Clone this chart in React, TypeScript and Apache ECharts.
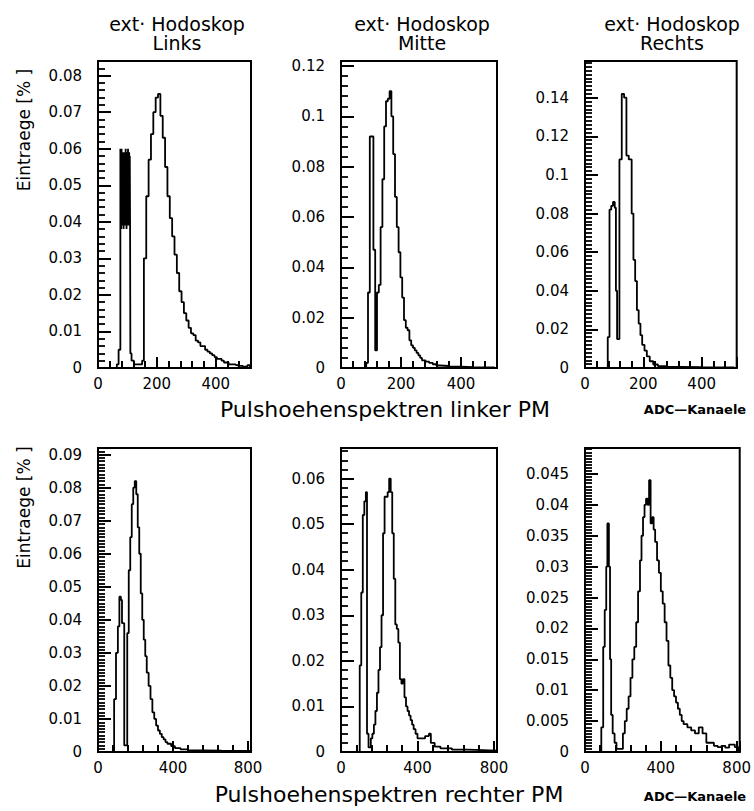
import React, { useEffect, useRef } from 'react';
import * as echarts from 'echarts';

// ---- Histogram data (bin edges in ADC channels, contents in %) ----
// Top row: linker PM
const p1Edges = [64, 70, 76, 77, 78, 79, 80, 81, 82, 83, 84, 85, 86, 87, 88, 89, 90, 91, 92, 93, 94, 95, 96, 97, 98, 99,
  100, 101, 102, 103, 104, 105, 106, 107, 108, 109, 110, 114, 122, 150, 156,
  164, 172, 180, 188, 196, 204, 212, 220, 228, 236, 244, 252, 260, 268, 276, 284, 292, 300, 308, 316, 324, 332, 340, 348,
  356, 364, 372, 380, 388, 396, 404, 412, 420, 428, 436, 444, 452, 460, 468, 476, 484, 492, 500, 508, 516];
const p1Counts = [0.001, 0.005,
  0.060, 0.040, 0.059, 0.038, 0.060, 0.042, 0.058, 0.039, 0.059, 0.041, 0.058, 0.038, 0.059, 0.043, 0.058, 0.040, 0.058,
  0.039, 0.060, 0.041, 0.059, 0.038, 0.058, 0.042, 0.059, 0.039, 0.060, 0.040, 0.058, 0.041, 0.059, 0.039, 0.058, 0.040,
  0.004, 0.002, 0.001, 0.002,
  0.030, 0.047, 0.057, 0.064, 0.070, 0.074, 0.075, 0.069, 0.063, 0.055, 0.047, 0.041, 0.036, 0.031, 0.026, 0.021, 0.018,
  0.015, 0.013, 0.011, 0.0095, 0.009, 0.0075, 0.007, 0.006, 0.006, 0.005, 0.0045, 0.004, 0.0035, 0.003, 0.0025, 0.0025,
  0.002, 0.0015, 0.0015, 0.001, 0.001, 0.001, 0.0008, 0.0006, 0.0006, 0.0004, 0.0004, 0.0008];

const p2Edges = [84, 90, 96, 102, 108, 114, 120, 126, 132, 138, 144, 150, 156, 162, 168, 174, 180, 186, 192, 198, 204, 210,
  216, 222, 228, 234, 240, 246, 252, 258, 264, 270, 282, 294, 306, 318, 330, 360, 400, 440, 512];
const p2Counts = [0.002, 0.030, 0.092, 0.092, 0.047, 0.007, 0.030, 0.033, 0.056, 0.075, 0.096, 0.106, 0.107, 0.110, 0.100,
  0.085, 0.068, 0.056, 0.046, 0.036, 0.028, 0.019, 0.016, 0.015, 0.011, 0.009, 0.008, 0.007, 0.006, 0.005, 0.004, 0.003,
  0.0025, 0.002, 0.0015, 0.001, 0.0008, 0.0005, 0.0003, 0.0002];

const p3Edges = [78, 84, 90, 96, 102, 106, 110, 118, 126, 134, 142, 150, 160, 166, 172, 178, 184, 190, 196, 204, 212, 222,
  234, 250, 280, 330, 400, 512];
const p3Counts = [0.016, 0.082, 0.084, 0.086, 0.083, 0.040, 0.015, 0.108, 0.142, 0.140, 0.110, 0.108, 0.080, 0.056, 0.045,
  0.030, 0.023, 0.017, 0.012, 0.009, 0.006, 0.0035, 0.0018, 0.001, 0.0006, 0.0004, 0.0003];

// Bottom row: rechter PM
const p4Edges = [86, 96, 106, 114, 122, 128, 140, 156, 164, 172, 180, 188, 196, 204, 212, 220, 228, 236, 244, 252, 260, 270,
  280, 290, 300, 310, 320, 330, 340, 350, 360, 370, 390, 410, 440, 480, 560, 660, 816];
const p4Counts = [0.016, 0.030, 0.038, 0.047, 0.046, 0.039, 0.002, 0.036, 0.055, 0.065, 0.075, 0.080, 0.082, 0.078, 0.068,
  0.060, 0.048, 0.040, 0.034, 0.029, 0.024, 0.020, 0.016, 0.012, 0.010, 0.008, 0.0065, 0.0055, 0.0045, 0.0038, 0.003,
  0.0025, 0.0018, 0.0012, 0.0008, 0.0005, 0.0004, 0.0003];

const p5Edges = [98, 106, 114, 122, 130, 136, 144, 156, 164, 172, 180, 188, 196, 204, 212, 220, 228, 236, 244, 252, 260, 268,
  276, 284, 292, 300, 308, 316, 324, 332, 340, 348, 356, 364, 372, 380, 390, 400, 420, 440, 460, 470, 490, 520, 580, 660,
  740, 816];
const p5Counts = [0.019, 0.035, 0.052, 0.055, 0.057, 0.004, 0.001, 0.003, 0.004, 0.006, 0.009, 0.013, 0.018, 0.023, 0.030,
  0.048, 0.056, 0.056, 0.057, 0.060, 0.057, 0.048, 0.038, 0.028, 0.027, 0.024, 0.016, 0.015, 0.016, 0.012, 0.010, 0.009,
  0.008, 0.007, 0.006, 0.005, 0.004, 0.003, 0.003, 0.0035, 0.004, 0.002, 0.0012, 0.0008, 0.0005, 0.0004, 0.0003];

const p6Edges = [86, 96, 104, 112, 118, 126, 132, 138, 146, 156, 166, 200, 210, 220, 230, 240, 250, 260, 270, 280, 290, 298,
  306, 314, 322, 330, 338, 346, 354, 362, 370, 380, 390, 400, 410, 420, 430, 440, 450, 460, 470, 480, 490, 500, 510, 520,
  540, 560, 580, 600, 620, 640, 660, 680, 700, 720, 740, 760, 790, 810];
const p6Counts = [0.004, 0.017, 0.023, 0.030, 0.037, 0.030, 0.015, 0.006, 0.003, 0.0015, 0.0005, 0.003, 0.005, 0.007, 0.009,
  0.012, 0.015, 0.017, 0.021, 0.026, 0.031, 0.035, 0.038, 0.040, 0.041, 0.040, 0.044, 0.037, 0.038, 0.036, 0.034, 0.031,
  0.029, 0.026, 0.024, 0.021, 0.018, 0.014, 0.012, 0.010, 0.009, 0.008, 0.007, 0.006, 0.005, 0.0045, 0.004, 0.0035, 0.003,
  0.004, 0.003, 0.0015, 0.0015, 0.001, 0.0008, 0.001, 0.0007, 0.0012, 0.0008];

const panelEdges = [p1Edges, p2Edges, p3Edges, p4Edges, p5Edges, p6Edges];
const panelCounts = [p1Counts, p2Counts, p3Counts, p4Counts, p5Counts, p6Counts];

// ---- Axis scales ----
const yMaxes = [0.084, 0.122, 0.159, 0.092, 0.0667, 0.0492];
const yIntervals = [0.01, 0.02, 0.02, 0.01, 0.01, 0.005];
const yMinorSplits = [5, 5, 10, 10, 5, 10];
const xMaxes = [520, 520, 520, 816, 816, 816];
const xIntervals = [200, 200, 200, 400, 400, 400];

// ---- Texts ----
const columnTitles = ['Links', 'Mitte', 'Rechts'];
const titlePrefix = 'ext· Hodoskop';
const yTitle = 'Eintraege [% ]';
const rowTitles = ['Pulshoehenspektren linker PM', 'Pulshoehenspektren rechter PM'];
const unitTitle = 'ADC—Kanaele';

// ---- Layout ----
const gridRects = [
  { left: 98, top: 61, width: 153, height: 307 },
  { left: 341, top: 61, width: 156, height: 307 },
  { left: 585, top: 61, width: 156, height: 307 },
  { left: 98, top: 448, width: 153, height: 304 },
  { left: 341, top: 448, width: 156, height: 304 },
  { left: 585, top: 448, width: 155, height: 304 },
];
// invisible grids that only carry the rotated y titles
const nameRects = [
  { left: 98, top: 62, width: 1, height: 136 },
  { left: 98, top: 447, width: 1, height: 121 },
];
const titleCentersX = [177, 422, 672];

const FONT = 'DejaVu Sans';

function toSteps(edges: number[], counts: number[]) {
  const pts: number[][] = [[edges[0], 0]];
  for (let i = 0; i < counts.length; i++) pts.push([edges[i], counts[i]]);
  pts.push([edges[edges.length - 1], 0]);
  return pts;
}

// visible label at multiples of the interval; the axis-end label is kept but transparent
const labelAt = (interval: number) => (v: number) => {
  const q = v / interval;
  const s = String(Math.round(v * 10000) / 10000);
  return Math.abs(q - Math.round(q)) < 1e-6 ? s : `{hid|${s}}`;
};
const hiddenRich = { hid: { color: 'rgba(255,255,255,0)', fontSize: 15, fontFamily: FONT } };

export default function App() {
  const ref = useRef<HTMLDivElement>(null);
  useEffect(() => {
    if (!ref.current) return;
    const chart = echarts.init(ref.current, undefined, { renderer: 'svg' });
    const grids: any[] = gridRects.map((r) => ({ ...r, show: true, borderColor: '#000', borderWidth: 2 }));
    nameRects.forEach((r) => grids.push({ ...r, show: false }));

    const xAxes: any[] = gridRects.map((_, i) => ({
      type: 'value',
      gridIndex: i,
      min: 0,
      max: xMaxes[i],
      interval: xIntervals[i],
      axisLine: { show: true, lineStyle: { color: '#000', width: 2 } },
      axisTick: { show: true, inside: true, length: 11, lineStyle: { color: '#000', width: 2 } },
      minorTick: { show: true, splitNumber: 5, length: 7, lineStyle: { color: '#000', width: 2 } },
      splitLine: { show: false },
      axisLabel: {
        show: true, margin: 8, color: '#000', fontFamily: FONT, fontSize: 15,
        formatter: labelAt(xIntervals[i]), rich: hiddenRich,
      },
    }));
    const yAxes: any[] = gridRects.map((_, i) => ({
      type: 'value',
      gridIndex: i,
      min: 0,
      max: yMaxes[i],
      interval: yIntervals[i],
      axisLine: { show: true, lineStyle: { color: '#000', width: 2 } },
      axisTick: { show: true, inside: true, length: 13, lineStyle: { color: '#000', width: 2 } },
      minorTick: { show: true, splitNumber: yMinorSplits[i], length: 7, lineStyle: { color: '#000', width: 1.8 } },
      splitLine: { show: false },
      axisLabel: {
        show: true, margin: 16, color: '#000', fontFamily: FONT, fontSize: 15,
        formatter: labelAt(yIntervals[i]), rich: hiddenRich,
      },
    }));
    nameRects.forEach((_, k) => {
      const gi = gridRects.length + k;
      xAxes.push({ type: 'value', gridIndex: gi, show: false, min: 0, max: 1 });
      yAxes.push({
        type: 'value', gridIndex: gi, min: 0, max: 1,
        axisLine: { show: false }, axisTick: { show: false }, axisLabel: { show: false }, splitLine: { show: false },
        name: yTitle, nameLocation: 'middle', nameRotate: 90, nameGap: 66,
        nameTextStyle: { color: '#000', fontFamily: FONT, fontSize: 17 },
      });
    });

    const series: any[] = panelEdges.map((edges, i) => ({
      type: 'line',
      xAxisIndex: i,
      yAxisIndex: i,
      step: 'end',
      symbol: 'none',
      lineStyle: { color: '#000', width: 1.8 },
      data: toSteps(edges, panelCounts[i]),
    }));

    const ttl = (text: string, x: number, y: number, fontSize: number, bold = false) => ({
      text,
      left: x,
      top: y,
      padding: 0,
      textAlign: 'center',
      textVerticalAlign: 'middle',
      textStyle: { color: '#000', fontFamily: FONT, fontSize, fontWeight: bold ? 'bold' : 'normal' },
    });
    const titles: any[] = [];
    columnTitles.forEach((t, c) => {
      titles.push(ttl(titlePrefix, titleCentersX[c], 24, 19));
      titles.push(ttl(t, titleCentersX[c], 43, 19));
    });
    titles.push(ttl(rowTitles[0], 385, 409, 22));
    titles.push(ttl(rowTitles[1], 389, 794, 22));
    titles.push(ttl(unitTitle, 695, 409, 13, true));
    titles.push(ttl(unitTitle, 695, 796, 13, true));

    chart.setOption({
      animation: false,
      backgroundColor: '#fff',
      title: titles,
      grid: grids,
      xAxis: xAxes,
      yAxis: yAxes,
      series,
    } as any);
    return () => chart.dispose();
  }, []);
  return (
    <div
      ref={ref}
      style={{ position: 'absolute', left: 0, top: 0, width: 754, height: 811 }}
    />
  );
}
